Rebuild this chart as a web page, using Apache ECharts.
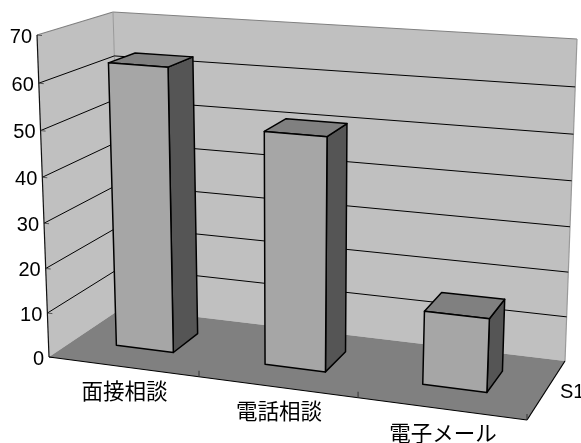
<!DOCTYPE html>
<html><head><meta charset="utf-8">
<style>html,body{margin:0;padding:0;background:#fff}#c{width:581px;height:443px}</style>
<script src="https://cdn.jsdelivr.net/npm/echarts@6/dist/echarts.min.js"></script>
</head><body><div id="c"></div>
<script>
const categories = ['面接相談', '電話相談', '電子メール'];
const seriesLabel = 'S1';
const values = [63, 51, 16];
const valueTicks = [0, 10, 20, 30, 40, 50, 60, 70];

// Camera: where the corners of the chart box land on the picture.
const FRONT = {p00:[49,357], p10:[527,420], p11:[543,70], p01:[37,35]};
const BACK  = {p00:[122,308], p10:[565,361], p11:[577,39], p01:[113,12]};
const BAR_DEPTH = [0.35, 0.72];
const BAR_HALF = 0.195; // half of bar width, in category bands
const BAR_SHIFT = -0.013;

function homography(q){
  const [x0,y0]=q.p00,[x1,y1]=q.p10,[x2,y2]=q.p11,[x3,y3]=q.p01;
  const sx=x0-x1+x2-x3, sy=y0-y1+y2-y3, dx1=x1-x2, dx2=x3-x2, dy1=y1-y2, dy2=y3-y2;
  const den=dx1*dy2-dx2*dy1, g=(sx*dy2-dx2*sy)/den, h=(dx1*sy-sx*dy1)/den;
  const a=x1-x0+g*x1, b=x3-x0+h*x3, d=y1-y0+g*y1, e=y3-y0+h*y3;
  return (u,v)=>{const w=g*u+h*v+1;return [(a*u+b*v+x0)/w,(d*u+e*v+y0)/w];};
}
const hF=homography(FRONT), hB=homography(BACK);
function project(u,v,d){const f=hF(u,v),b=hB(u,v);return [f[0]+(b[0]-f[0])*d,f[1]+(b[1]-f[1])*d];}

// value/category -> unit box coords, through the chart's own axes
function unit(params,api,cat,off,val){
  const cs=params.coordSys, pt=api.coord([cat,val]), band=api.size([1,0])[0];
  return [(pt[0]+off*band-cs.x)/cs.width,(cs.y+cs.height-pt[1])/cs.height];
}
const poly=(points,fill,stroke,lw)=>({type:'polygon',shape:{points},style:{fill,stroke:stroke||null,lineWidth:lw||0,lineJoin:'round'}});
const seg=(a,b,stroke,lw)=>({type:'line',shape:{x1:a[0],y1:a[1],x2:b[0],y2:b[1]},style:{stroke,lineWidth:lw||1,fill:null}});

function renderWalls(params,api){
  const W='#c0c0c0',E='#808080';
  return {type:'group',children:[
    poly([project(0,0,0),project(0,0,1),project(0,1,1),project(0,1,0)],W),
    poly([project(0,0,1),project(1,0,1),project(1,1,1),project(0,1,1)],W),
    poly([project(0,0,0),project(1,0,0),project(1,0,1),project(0,0,1)],'#808080'),
    seg(project(0,1,0),project(0,1,1),E,1.2),
    seg(project(0,1,1),project(1,1,1),E,1.2),
    seg(project(0,1,1),project(0,0,1),'#999',1),
    seg(project(1,1,1),project(1,0,1),'#999',1.2),
  ]};
}
function renderGrid(params,api){
  const val=api.value(1), [,v]=unit(params,api,0,0,val), kids=[];
  if(v>0&&v<1){
    kids.push(seg(project(0,v,0),project(0,v,1),'#000',1));
    kids.push(seg(project(0,v,1),project(1,v,1),'#000',1));
  }
  const p=project(0,v,0);
  kids.push(seg(p,[p[0]+5,p[1]+0.5],'#555',1));
  kids.push({type:'text',style:{text:String(val),x:p[0]-5,y:p[1]+2,align:'right',verticalAlign:'middle',fill:'#000',font:'20px "Liberation Sans"'}});
  return {type:'group',children:kids};
}
function renderFrame(params,api){
  const kids=[seg(project(0,0,0),project(0,1,0),'#111',1.2),
    seg(project(0,0,0),project(1,0,0),'#000',1.2),
    seg(project(1,0,0),project(1,0,1),'#000',1.2)];
  categories.forEach((c,i)=>{
    const u=unit(params,api,i,0.5,0)[0], p=project(u,0,0);
    kids.push(seg(p,[p[0],p[1]-6],'#333',1));
  });
  const s=project(1,0,0.5);
  kids.push({type:'text',style:{text:seriesLabel,x:s[0]+14,y:s[1]+2,align:'left',verticalAlign:'middle',fill:'#000',font:'20px "Liberation Sans"'}});
  return {type:'group',children:kids};
}
function renderBar(params,api){
  const i=api.value(0), val=api.value(1);
  const [ul,v]=unit(params,api,i,BAR_SHIFT-BAR_HALF,val), [ur]=unit(params,api,i,BAR_SHIFT+BAR_HALF,val);
  const [d0,d1]=BAR_DEPTH, L='#000', lw=1.5;
  const fl0=project(ul,0,d0),fr0=project(ur,0,d0),fr1=project(ur,v,d0),fl1=project(ul,v,d0);
  const br0=project(ur,0,d1),br1=project(ur,v,d1),bl1=project(ul,v,d1);
  return {type:'group',children:[
    poly([fr0,br0,br1,fr1],'#555555',L,lw),
    poly([fl1,fr1,br1,bl1],'#808080',L,lw),
    poly([fl0,fr0,fr1,fl1],'#a6a6a6',L,lw),
  ]};
}
function renderCatLabel(params,api){
  const i=api.value(0), u=unit(params,api,i,0.01,0)[0], p=project(u,0,0);
  return {type:'text',style:{text:categories[i],x:p[0],y:p[1]+24,align:'center',verticalAlign:'middle',fill:'#000',font:'21.5px "Noto Sans CJK JP"'}};
}
const custom=(renderItem,data,z)=>({type:'custom',renderItem,data,clip:false,silent:true,z,animation:false});
const chart=echarts.init(document.getElementById('c'),null,{renderer:'canvas'});
chart.setOption({
  animation:false,
  backgroundColor:'#fff',
  grid:{left:49,top:35,width:480,height:322},
  xAxis:{type:'category',data:categories,show:false},
  yAxis:{type:'value',min:0,max:70,interval:10,show:false},
  series:[
    custom(renderWalls,[[0,0]],1),
    custom(renderGrid,valueTicks.map(t=>[0,t]),2),
    custom(renderFrame,[[0,0]],3),
    custom(renderBar,values.map((v,i)=>[i,v]),4),
    custom(renderCatLabel,categories.map((c,i)=>[i,0]),5),
  ]
});
</script></body></html>
